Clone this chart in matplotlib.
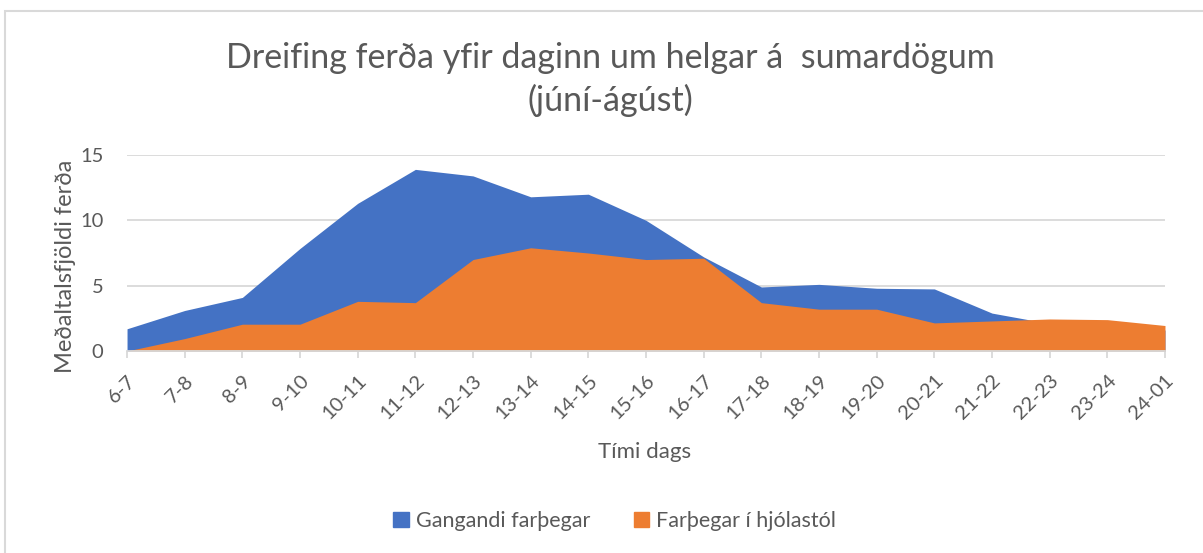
import matplotlib.pyplot as plt
from matplotlib.patches import Rectangle, Patch

plt.rcParams['font.family'] = ['Lato', 'DejaVu Sans']

timar = ['6-7', '7-8', '8-9', '9-10', '10-11', '11-12', '12-13', '13-14', '14-15',
         '15-16', '16-17', '17-18', '18-19', '19-20', '20-21', '21-22', '22-23',
         '23-24', '24-01']
gangandi = [1.7, 3.1, 4.1, 7.85, 11.3, 13.9, 13.4, 11.8, 12.0, 10.0, 7.2, 4.9,
            5.1, 4.8, 4.75, 2.9, 2.1, 1.9, 1.6]
hjolastol = [0.0, 0.95, 2.05, 2.05, 3.8, 3.7, 7.0, 7.9, 7.5, 7.0, 7.1, 3.7,
             3.2, 3.2, 2.15, 2.3, 2.45, 2.4, 1.95]

blue = '#4472C4'
orange = '#ED7D31'
grey_txt = '#595959'
grid = '#D9D9D9'

fig = plt.figure(figsize=(12.03, 5.53), dpi=100)
ax = fig.add_axes([0.1056, 0.3653, 0.8628, 0.3544])

x = list(range(len(timar)))
ax.fill_between(x, gangandi, color=blue, lw=0, zorder=2)
ax.fill_between(x, hjolastol, color=orange, lw=0, zorder=3)

ax.set_xlim(0, len(timar) - 1)
ax.set_ylim(0, 15)
ax.set_yticks([0, 5, 10, 15])
ax.yaxis.grid(True, color=grid, lw=1.3, zorder=1)
ax.set_axisbelow(True)
for s in ['top', 'right', 'left']:
    ax.spines[s].set_visible(False)
ax.spines['bottom'].set_color(grid)
ax.spines['bottom'].set_linewidth(1.3)
ax.spines['bottom'].set_zorder(4)

ax.set_xticks(x)
ax.set_xticklabels(timar, rotation=45, ha='right', rotation_mode='anchor')
ax.tick_params(axis='x', colors=grey_txt, labelsize=14.5, length=5, width=1.3,
               color=grid, pad=10)
ax.tick_params(axis='y', colors=grey_txt, labelsize=14.5, length=0, pad=17)

ax.set_ylabel('Meðaltalsfjöldi ferða', fontsize=17, color=grey_txt, labelpad=3)
ax.yaxis.label.set_y(0.43)

fig.text(0.507, 0.895, 'Dreifing ferða yfir daginn um helgar á  sumardögum',
         ha='center', va='center', fontsize=24.5, color=grey_txt)
fig.text(0.507, 0.818, '(júní-ágúst)', ha='center', va='center',
         fontsize=24.5, color=grey_txt)
fig.text(0.536, 0.182, 'Tími dags', ha='center', va='center', fontsize=16,
         color=grey_txt)

handles = [Patch(color=blue, label='Gangandi farþegar'),
           Patch(color=orange, label='Farþegar í hjólastól')]
leg = fig.legend(handles=handles, loc='center', bbox_to_anchor=(0.511, 0.058),
                 ncol=2, frameon=False, fontsize=15.5, handlelength=0.7,
                 handleheight=0.7, handletextpad=0.35, columnspacing=2.0)
for t in leg.get_texts():
    t.set_color(grey_txt)

fig.patches.append(Rectangle((5 / 1203, -0.05), 1.2, 1 - 11 / 553 + 0.05,
                             transform=fig.transFigure, fill=False,
                             edgecolor=grid, lw=1.5))

fig.savefig('out.png', dpi=100)
